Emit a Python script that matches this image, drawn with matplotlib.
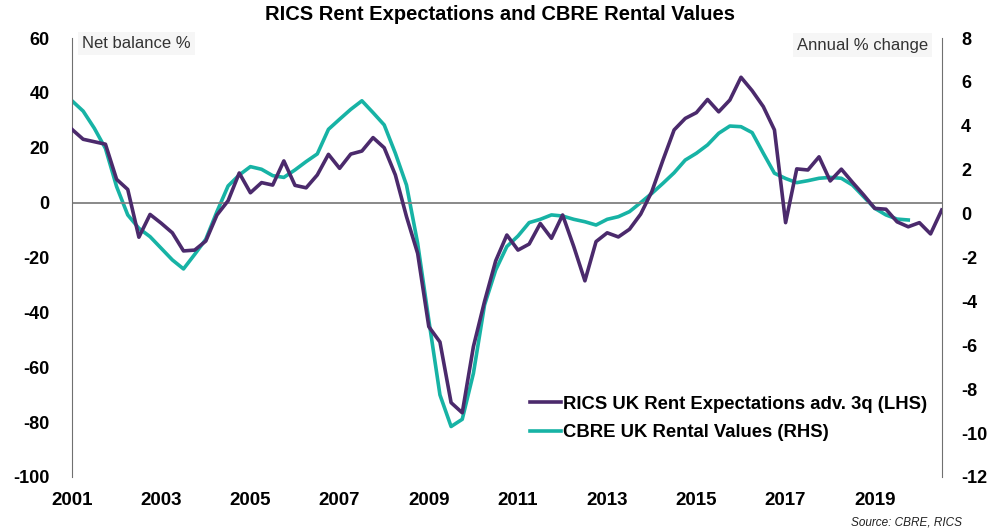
import matplotlib
matplotlib.use('Agg')
import matplotlib.pyplot as plt
import numpy as np
import pandas as pd

plt.rcParams['font.family'] = ['Liberation Sans', 'DejaVu Sans']
plt.rcParams['axes.unicode_minus'] = False

# quarterly data, RICS advanced 3 quarters (LHS, net balance %)
rics_start, rics_end = '2001Q1', '2020Q3'
rics = [26.7, 23.1, 22.2, 21.3,
        8.5, 4.8, -12.6, -4.3,
        -7.5, -11.0, -17.6, -17.3,
        -14.0, -4.5, 0.7, 10.8,
        3.6, 7.3, 6.4, 15.2,
        6.3, 5.4, 10.1, 17.6,
        12.5, 17.7, 18.8, 23.7,
        20.0, 10.1, -5.1, -18.5,
        -45.2, -50.8, -72.9, -76.6,
        -52.5, -36.0, -21.2, -11.8,
        -17.3, -15.1, -7.6, -13.0,
        -4.5, -16.0, -28.5, -14.2,
        -11.0, -12.5, -9.7, -4.2,
        4.0, 15.5, 26.5, 30.7,
        32.8, 37.6, 33.1, 37.4,
        45.7, 40.8, 35.0, 26.5,
        -7.3, 12.3, 11.9, 16.7,
        7.9, 12.2, 7.4, 2.8,
        -2.1, -2.4, -7.0, -8.8,
        -7.3, -11.4, -2.7]

# CBRE rental values, annual % change (RHS)
cbre_start, cbre_end = '2001Q1', '2019Q4'
cbre = [5.14, 4.67, 3.89, 2.97,
        1.23, -0.06, -0.67, -1.05,
        -1.58, -2.11, -2.52, -1.86,
        -1.17, 0.09, 1.26, 1.76,
        2.14, 2.02, 1.73, 1.65,
        1.99, 2.37, 2.72, 3.84,
        4.30, 4.75, 5.14, 4.60,
        4.04, 2.75, 1.30, -1.35,
        -4.85, -8.26, -9.70, -9.37,
        -7.28, -4.16, -2.57, -1.50,
        -1.02, -0.41, -0.26, -0.06,
        -0.11, -0.26, -0.37, -0.52,
        -0.26, -0.14, 0.09, 0.50,
        0.92, 1.38, 1.86, 2.44,
        2.75, 3.13, 3.66, 3.99,
        3.96, 3.69, 2.75, 1.84,
        1.60, 1.41, 1.50, 1.61,
        1.65, 1.61, 1.30, 0.77,
        0.24, -0.06, -0.25, -0.29]

year_ticks = [2001, 2003, 2005, 2007, 2009, 2011, 2013, 2015, 2017, 2019]
lhs_ticks = [60, 40, 20, 0, -20, -40, -60, -80, -100]
rhs_ticks = [8, 6, 4, 2, 0, -2, -4, -6, -8, -10, -12]

def to_years(start, end):
    q = pd.period_range(start, end, freq='Q')
    return q.year + (q.quarter - 1) / 4.0

x_rics = to_years(rics_start, rics_end)
x_cbre = to_years(cbre_start, cbre_end)

purple = '#4b2a6c'
teal = '#17b3a5'

fig = plt.figure(figsize=(10, 5.31), dpi=100)
ax = fig.add_axes([0.072, 0.1017, 0.8697, 0.8267])
ax2 = ax.twinx()

l2, = ax2.plot(x_cbre, cbre, color=teal, lw=2.6, label='CBRE UK Rental Values (RHS)', zorder=3)
l1, = ax.plot(x_rics, rics, color=purple, lw=2.6, label='RICS UK Rent Expectations adv. 3q (LHS)', zorder=4)
ax.set_zorder(ax2.get_zorder() + 1)
ax.patch.set_visible(False)

ax.axhline(0, color='#808080', lw=1.3, zorder=1)

ax.set_xlim(2001, 2020.5)
ax.set_ylim(-100, 60)
ax2.set_ylim(-12, 8)
ax.set_xticks(year_ticks)
ax.set_xticklabels([str(y) for y in year_ticks])
ax.set_yticks(lhs_ticks)
ax2.set_yticks(rhs_ticks)

for a in (ax, ax2):
    for s in ('top', 'bottom'):
        a.spines[s].set_visible(False)
ax.spines['left'].set_color('#707070')
ax.spines['right'].set_visible(False)
ax2.spines['left'].set_visible(False)
ax2.spines['right'].set_color('#707070')

ax.tick_params(axis='x', length=0, pad=11, labelsize=13.5)
ax.tick_params(axis='y', length=0, pad=16, labelsize=13)
ax2.tick_params(axis='y', length=0, pad=14, labelsize=13)
for lab in ax.get_xticklabels() + ax.get_yticklabels() + ax2.get_yticklabels():
    lab.set_fontweight('bold')

fig.text(0.5, 0.972, 'RICS Rent Expectations and CBRE Rental Values',
         ha='center', va='center', fontsize=14.5, fontweight='bold')

fig.text(0.082, 0.918, 'Net balance %', ha='left', va='center', fontsize=12,
         color='#333333', bbox=dict(facecolor='#f6f6f6', edgecolor='none', pad=3))
fig.text(0.928, 0.915, 'Annual % change', ha='right', va='center', fontsize=12,
         color='#333333', bbox=dict(facecolor='#f6f6f6', edgecolor='none', pad=3))

leg = fig.legend(handles=[l1, l2], loc='center left', bbox_to_anchor=(0.513, 0.212),
                 frameon=False, handlelength=1.7, handletextpad=0.1, labelspacing=0.62,
                 prop=dict(size=13.3, weight='bold'))

fig.text(0.962, 0.016, 'Source: CBRE, RICS', ha='right', va='center',
         fontsize=8.5, style='italic', color='#222222')

fig.savefig('out.png', dpi=100)
